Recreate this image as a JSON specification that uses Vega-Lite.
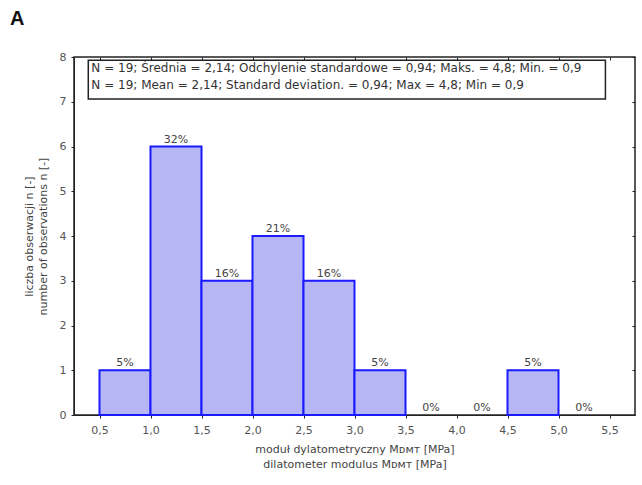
{
  "$schema": "https://vega.github.io/schema/vega-lite/v6.json",
  "autosize": {"type": "none"},
  "width": 561,
  "height": 358,
  "padding": {"left": 74, "top": 57, "right": 7, "bottom": 70},
  "background": "white",
  "title": {
    "text": "A",
    "anchor": "start",
    "frame": "group",
    "dx": -64,
    "offset": 22,
    "font": "Liberation Sans",
    "fontSize": 20,
    "fontWeight": "bold",
    "color": "#111"
  },
  "config": {
    "view": {"stroke": "#222", "strokeWidth": 1.5},
    "font": "DejaVu Sans",
    "axis": {
      "grid": false,
      "domainColor": "#222",
      "tickColor": "#222",
      "tickSize": 3,
      "labelColor": "#555",
      "labelFontSize": 11,
      "titleColor": "#444",
      "titleFontSize": 11,
      "titleFontWeight": "normal",
      "labelFont": "DejaVu Sans",
      "titleFont": "DejaVu Sans"
    }
  },
  "datasets": {
    "bins": [
      {"bin_start": 0.5, "bin_end": 1.0, "count": 1, "pct": "5%"},
      {"bin_start": 1.0, "bin_end": 1.5, "count": 6, "pct": "32%"},
      {"bin_start": 1.5, "bin_end": 2.0, "count": 3, "pct": "16%"},
      {"bin_start": 2.0, "bin_end": 2.5, "count": 4, "pct": "21%"},
      {"bin_start": 2.5, "bin_end": 3.0, "count": 3, "pct": "16%"},
      {"bin_start": 3.0, "bin_end": 3.5, "count": 1, "pct": "5%"},
      {"bin_start": 3.5, "bin_end": 4.0, "count": 0, "pct": "0%"},
      {"bin_start": 4.0, "bin_end": 4.5, "count": 0, "pct": "0%"},
      {"bin_start": 4.5, "bin_end": 5.0, "count": 1, "pct": "5%"},
      {"bin_start": 5.0, "bin_end": 5.5, "count": 0, "pct": "0%"}
    ],
    "stats": [
      {"text": [
        "N = 19; Średnia = 2,14; Odchylenie standardowe = 0,94; Maks. = 4,8; Min. = 0,9",
        "N = 19; Mean = 2,14; Standard deviation. = 0,94; Max = 4,8; Min = 0,9"
      ]}
    ]
  },
  "resolve": {"axis": {"x": "independent", "y": "independent"}},
  "layer": [
    {
      "data": {"name": "bins"},
      "transform": [{"filter": "datum.count > 0"}],
      "mark": {"type": "rect", "fill": "#b6b6f4", "stroke": "#1a1aff", "strokeWidth": 2},
      "encoding": {
        "x": {
          "field": "bin_start",
          "type": "quantitative",
          "scale": {"domain": [0.25, 5.75], "nice": false, "zero": false},
          "axis": {
            "values": [0.5, 1.0, 1.5, 2.0, 2.5, 3.0, 3.5, 4.0, 4.5, 5.0, 5.5],
            "labelExpr": "replace(format(datum.value, '.1f'), '.', ',')",
            "labelPadding": 6,
            "title": ["moduł dylatometryczny Mᴅᴍᴛ [MPa]", "dilatometer modulus Mᴅᴍᴛ [MPa]"],
            "titlePadding": 8,
            "titleLineHeight": 15
          }
        },
        "x2": {"field": "bin_end"},
        "y": {
          "field": "count",
          "type": "quantitative",
          "scale": {"domain": [0, 8], "nice": false},
          "axis": {
            "values": [0, 1, 2, 3, 4, 5, 6, 7, 8],
            "labelPadding": 5,
            "title": ["liczba obserwacji n [-]", "number of observations n [-]"],
            "titlePadding": 11,
            "titleLineHeight": 14
          }
        },
        "y2": {"datum": 0}
      }
    },
    {
      "data": {"name": "bins"},
      "mark": {"type": "point", "opacity": 0},
      "encoding": {
        "x": {
          "field": "bin_start",
          "type": "quantitative",
          "axis": {
            "orient": "top",
            "values": [0.5, 1.0, 1.5, 2.0, 2.5, 3.0, 3.5, 4.0, 4.5, 5.0, 5.5],
            "labels": false,
            "title": null,
            "domain": false,
            "tickSize": -3
          }
        },
        "y": {
          "field": "count",
          "type": "quantitative",
          "axis": {
            "orient": "right",
            "values": [0, 1, 2, 3, 4, 5, 6, 7, 8],
            "labels": false,
            "title": null,
            "domain": false,
            "tickSize": -3
          }
        }
      }
    },
    {
      "data": {"name": "bins"},
      "transform": [{"calculate": "(datum.bin_start + datum.bin_end) / 2", "as": "mid"}],
      "mark": {"type": "text", "baseline": "bottom", "dy": -2, "fontSize": 11, "color": "#444"},
      "encoding": {
        "x": {"field": "mid", "type": "quantitative", "axis": null},
        "y": {"field": "count", "type": "quantitative", "axis": null},
        "text": {"field": "pct"}
      }
    },
    {
      "data": {"name": "stats"},
      "mark": {"type": "rect", "fill": "white", "stroke": "#222", "strokeWidth": 1.5},
      "encoding": {
        "x": {"datum": 0.39, "type": "quantitative", "axis": null},
        "x2": {"datum": 5.46},
        "y": {"datum": 7.06, "type": "quantitative", "axis": null},
        "y2": {"datum": 7.93}
      }
    },
    {
      "data": {"name": "stats"},
      "mark": {"type": "text", "align": "left", "baseline": "top", "fontSize": 12, "lineHeight": 17, "color": "#333"},
      "encoding": {
        "x": {"datum": 0.42, "type": "quantitative", "axis": null},
        "y": {"datum": 7.87, "type": "quantitative", "axis": null},
        "text": {"field": "text"}
      }
    }
  ]
}
